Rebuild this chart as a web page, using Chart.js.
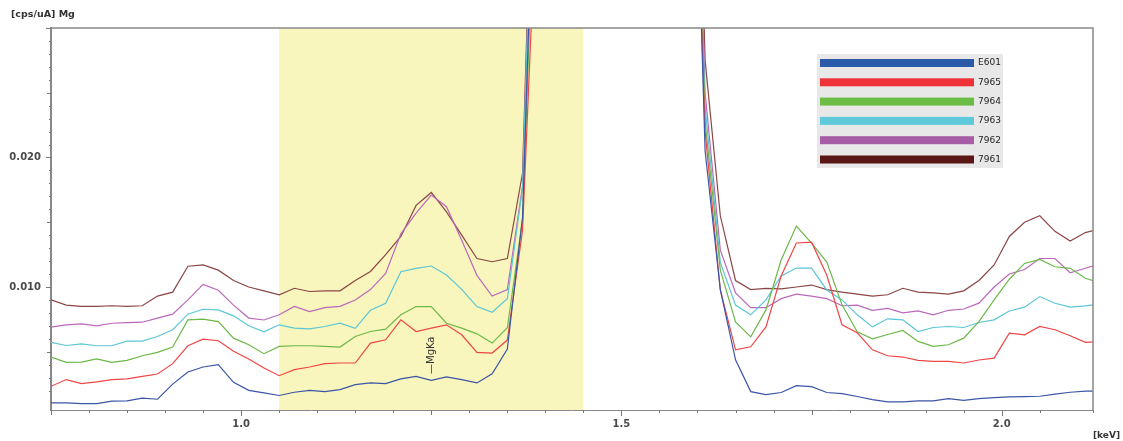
<!DOCTYPE html>
<html>
<head>
<meta charset="utf-8">
<script src="https://cdn.jsdelivr.net/npm/chart.js@4.4.1/dist/chart.umd.min.js"></script>
<style>
  html, body { margin: 0; padding: 0; background: #fff; }
  #wrap { width: 1123px; height: 441px; position: relative; }
</style>
</head>
<body>
<div id="wrap"><canvas id="spec"></canvas></div>
<script>
// series values are in 10^-3 cps/uA
const UNIT = 1e-3;

const energies = [0.75,0.77,0.79,0.81,0.83,0.85,0.87,0.89,0.91,0.93,
                  0.95,0.97,0.99,1.01,1.03,1.05,1.07,1.09,1.11,1.13,
                  1.15,1.17,1.19,1.21,1.23,1.25,1.27,1.29,1.31,1.33,
                  1.35,1.37,1.39,1.41,1.43,1.45,1.47,1.49,1.51,1.53,
                  1.55,1.57,1.59,1.61,1.63,1.65,1.67,1.69,1.71,1.73,
                  1.75,1.77,1.79,1.81,1.83,1.85,1.87,1.89,1.91,1.93,
                  1.95,1.97,1.99,2.01,2.03,2.05,2.07,2.09,2.11,2.13];

const sE601 = [1.05,1.05,1.0,1.0,1.18,1.2,1.41,1.33,2.5,3.44,
               3.82,4.0,2.64,2.02,1.82,1.62,1.87,2.02,1.92,2.08,
               2.46,2.59,2.54,2.9,3.1,2.79,3.05,2.85,2.59,3.3,
               5.2,15.4,52,85,115,145,175,195,175,145,
               115,85,60,20.5,9.8,4.38,1.92,1.69,1.85,2.38,
               2.3,1.85,1.77,1.54,1.3,1.13,1.13,1.2,1.2,1.38,
               1.25,1.38,1.46,1.51,1.54,1.56,1.72,1.87,1.95,1.95];
const s7965 = [2.33,2.85,2.54,2.67,2.85,2.9,3.1,3.28,4.08,5.46,
               5.97,5.85,5.03,4.44,3.74,3.15,3.62,3.82,4.08,4.13,
               4.13,5.67,5.92,7.46,6.56,6.82,7.08,6.31,4.95,4.9,
               5.9,14.4,42,75,105,135,165,185,165,135,
               105,75,58,22,9.77,5.15,5.38,6.92,10.85,13.4,
               13.46,10.9,7.08,6.46,5.15,4.69,4.59,4.33,4.26,4.26,
               4.13,4.36,4.51,6.44,6.31,6.95,6.7,6.23,5.72,5.8];
const s7964 = [4.59,4.18,4.2,4.44,4.18,4.33,4.69,4.95,5.36,7.46,
               7.51,7.33,6.05,5.54,4.85,5.41,5.46,5.46,5.41,5.36,
               6.18,6.56,6.74,7.85,8.49,8.49,7.2,6.82,6.38,5.67,
               6.85,15.2,48,80,110,140,170,190,170,140,
               110,80,60,22.8,11.3,7.3,6.15,8.23,12.08,14.7,
               13.38,11.92,8.62,6.54,6.0,6.33,6.64,5.8,5.41,5.54,
               6.05,7.33,9.0,10.6,11.82,12.13,11.56,11.44,10.67,10.3];
const s7963 = [5.72,5.48,5.6,5.46,5.46,5.82,5.82,6.18,6.7,7.9,
               8.28,8.23,7.77,7.0,6.54,7.08,6.82,6.77,6.95,7.2,
               6.8,8.2,8.74,11.18,11.44,11.62,10.92,9.82,8.49,8.05,
               9.1,17.7,55,85,115,145,175,195,175,145,
               115,85,62,23.9,11.9,8.6,7.85,9.0,10.85,11.46,
               11.46,9.77,9.0,7.85,6.92,7.54,7.46,6.56,6.87,6.95,
               6.87,7.26,7.46,8.15,8.44,9.26,8.74,8.44,8.54,8.7];
const s7962 = [6.9,7.08,7.15,7.0,7.2,7.25,7.28,7.6,7.9,9.0,
               10.2,9.75,8.6,7.6,7.45,7.85,8.5,8.1,8.4,8.5,
               9.0,9.8,11.05,14.1,15.7,17.1,16.2,13.6,10.9,9.3,
               9.8,17.8,55,85,115,145,175,195,175,145,
               115,85,65,25,12.85,9.55,8.4,8.4,9.1,9.45,
               9.3,9.1,8.55,8.6,8.2,8.35,8.0,8.15,7.85,8.2,
               8.3,8.75,10.0,11.0,11.35,12.2,12.2,11.1,11.45,11.8];
const s7961 = [9.0,8.6,8.5,8.5,8.55,8.5,8.55,9.3,9.6,11.6,
               11.7,11.3,10.5,10.0,9.7,9.4,9.9,9.65,9.7,9.7,
               10.5,11.2,12.5,13.9,16.3,17.3,15.8,14.0,12.2,11.95,
               12.2,18.8,58,90,120,150,180,200,180,150,
               120,90,70,27.5,15.5,10.5,9.8,9.9,9.85,10.0,
               10.15,9.8,9.6,9.45,9.3,9.4,9.9,9.6,9.55,9.45,
               9.7,10.5,11.7,13.9,15.0,15.5,14.3,13.55,14.2,14.5];

const seriesNames  = ['E601', '7965', '7964', '7963', '7962', '7961'];
const seriesData   = [sE601, s7965, s7964, s7963, s7962, s7961];
const lineColors   = ['#3b56a8', '#ef4646', '#6cb84a', '#5cc6d6', '#bb68bb', '#8c4646'];
const legendColors = ['#2b5ba8', '#ee3237', '#6cbd45', '#5ecad9', '#a75ca6', '#5b1515'];

const xLabelTicks = [1.0, 1.5, 2.0];
const yLabelTicks = [0.010, 0.020];
const band = [1.05, 1.45];          // highlighted ROI, keV
const marker = { label: 'MgKa', energy: 1.25 };

const FONT = '"DejaVu Sans", Verdana, sans-serif';
const AXIS = '#888888';
const TEXT = '#4a4a4a';

const near = (a, b) => Math.abs(a - b) < 1e-6;

// ── decorations: ROI band, frame, ticks, marker, legend, units ───────
const specDecor = {
  id: 'specDecor',
  beforeDatasetsDraw(chart) {
    const { ctx, chartArea: a, scales: { x } } = chart;
    const x0 = x.getPixelForValue(band[0]), x1 = x.getPixelForValue(band[1]);
    ctx.save();
    ctx.fillStyle = '#f8f6bd';
    ctx.fillRect(x0, a.top, x1 - x0, a.bottom - a.top);
    ctx.restore();
  },
  afterDraw(chart) {
    const { ctx, chartArea: a, scales: { x, y } } = chart;
    ctx.save();

    // top / right frame
    ctx.strokeStyle = AXIS;
    ctx.lineWidth = 1.5;
    ctx.beginPath();
    ctx.moveTo(a.left, a.top); ctx.lineTo(a.right, a.top); ctx.lineTo(a.right, a.bottom);
    ctx.stroke();

    // tick marks
    ctx.strokeStyle = '#777';
    ctx.lineWidth = 1;
    ctx.beginPath();
    y.ticks.forEach(t => {
      const v = t.value;
      if (!near(v, Math.round(v))) return;
      const len = near(v % 10, 0) ? 5 : (near(v % 5, 0) ? 4 : 2);
      const py = Math.round(y.getPixelForValue(v)) + 0.5;
      ctx.moveTo(a.left - len, py); ctx.lineTo(a.left, py);
    });
    x.ticks.forEach(t => {
      const v = t.value;
      const len = near(v * 2, Math.round(v * 2)) ? 6 : (near(v * 4, Math.round(v * 4)) ? 5 : 3);
      const px = Math.round(x.getPixelForValue(v)) + 0.5;
      ctx.moveTo(px, a.bottom); ctx.lineTo(px, a.bottom + len);
    });
    ctx.stroke();

    // line marker
    const mx = x.getPixelForValue(marker.energy);
    ctx.translate(mx, 374);
    ctx.rotate(-Math.PI / 2);
    ctx.fillStyle = '#333';
    ctx.font = '10px ' + FONT;
    ctx.textAlign = 'left';
    ctx.textBaseline = 'middle';
    ctx.fillText('\u2014' + marker.label, 0, 0);
    ctx.setTransform(1, 0, 0, 1, 0, 0);

    // legend
    ctx.fillStyle = '#e8e8e8';
    ctx.fillRect(817, 54, 186, 114);
    ctx.font = '9px ' + FONT;
    ctx.textBaseline = 'middle';
    chart.data.datasets.forEach((ds, i) => {
      const cy = 63 + i * 19.3;
      ctx.fillStyle = legendColors[i];
      ctx.fillRect(820, cy - 4, 154, 8);
      ctx.fillStyle = '#222';
      ctx.fillText(ds.label, 978, cy);
    });

    // units
    ctx.fillStyle = '#333';
    ctx.font = 'bold 9.5px ' + FONT;
    ctx.textAlign = 'left';
    ctx.fillText('[cps/uA] Mg', 11, 15);
    ctx.font = 'bold 9px ' + FONT;
    ctx.textAlign = 'right';
    ctx.fillText('[keV]', 1120, 436);
    ctx.restore();
  }
};

const datasets = seriesNames.map((name, i) => ({
  label: name,
  data: energies.map((e, j) => ({ x: e, y: seriesData[i][j] })),
  borderColor: lineColors[i],
  borderWidth: 1.2,
  pointRadius: 0,
  tension: 0,
  fill: false,
}));

new Chart(document.getElementById('spec').getContext('2d'), {
  type: 'line',
  data: { datasets },
  options: {
    responsive: true, maintainAspectRatio: false, animation: false,
    layout: { padding: { top: 28, right: 30, left: 0, bottom: 0 } },
    plugins: { legend: { display: false }, tooltip: { enabled: false } },
    scales: {
      x: {
        type: 'linear', min: 0.75, max: 2.12,
        afterFit: s => { s.height = 31; },
        grid: { display: false, drawTicks: false },
        border: { color: AXIS, width: 1 },
        ticks: {
          stepSize: 0.05, autoSkip: false, maxRotation: 0, padding: 8,
          font: { family: FONT, size: 10, weight: 'bold' }, color: TEXT,
          callback: v => { const t = xLabelTicks.find(l => near(l, v)); return t === undefined ? '' : t.toFixed(1); },
        },
      },
      y: {
        type: 'linear', min: 0.5, max: 30,
        afterFit: s => { s.width = 51; },
        grid: { display: false, drawTicks: false },
        border: { color: AXIS, width: 2 },
        ticks: {
          stepSize: 1, autoSkip: false, padding: 10,
          font: { family: FONT, size: 10, weight: 'bold' }, color: TEXT,
          callback: v => { const t = yLabelTicks.find(l => near(l, v * UNIT)); return t === undefined ? '' : t.toFixed(3); },
        },
      },
    },
  },
  plugins: [specDecor],
});
</script>
</body>
</html>
